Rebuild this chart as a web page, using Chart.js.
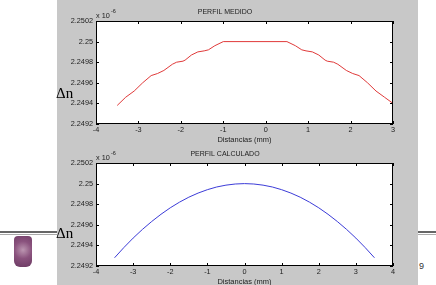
<!DOCTYPE html>
<html>
<head>
<meta charset="utf-8">
<script src="https://cdn.jsdelivr.net/npm/chart.js@4.4.1/dist/chart.umd.min.js"></script>
<style>
  body { margin: 0; width: 436px; height: 285px; background: #fff; position: relative; overflow: hidden; font-family: "Liberation Sans", Arial, sans-serif; }
  #figure { position: absolute; left: 57px; top: 0; width: 361px; height: 285px; background: #c8c8c8; }
  canvas { position: absolute; left: 57px; }
  #topChart { top: 0; }
  #bottomChart { top: 142px; }
  .dn { position: absolute; left: 56px; font-family: "Liberation Serif", "Times New Roman", serif; font-size: 15px; color: #000; line-height: 1; }
  .rule { position: absolute; top: 231px; height: 1px; border-top: 2px solid #666; border-bottom: 1px solid #aaa; }
  #logo { position: absolute; left: 14px; top: 236px; width: 18px; height: 31px; border-radius: 4px 4px 6px 6px;
          background: radial-gradient(circle at 50% 45%, #b48aa8 0%, #7d3f6f 45%, #5a2350 100%); opacity: 0.9; }
  #page { position: absolute; left: 419px; top: 261px; font-size: 9px; color: #333; }
</style>
</head>
<body>
<div id="figure"></div>
<div class="rule" style="left:0; width:57px;"></div>
<div class="rule" style="left:418px; width:18px;"></div>
<div id="logo"></div>
<div id="page">9</div>
<canvas id="topChart" width="361" height="146"></canvas>
<canvas id="bottomChart" width="361" height="143"></canvas>
<div class="dn" style="top:86px;">&Delta;n</div>
<div class="dn" style="top:226px;">&Delta;n</div>
<script>
// measured profile (x in mm, n in units of 1e-6)
const xMedido = [-3.5, -3.3, -3.1, -2.9, -2.7, -2.55, -2.4, -2.2, -2.1, -1.95, -1.9, -1.75, -1.6, -1.45, -1.35, -1.2, -1.0,
                 0.5, 0.7, 0.85, 0.95, 1.1, 1.25, 1.4, 1.45, 1.6, 1.7, 1.9, 2.05, 2.2, 2.4, 2.6, 2.8, 3.0];
const yMedido = [2.24938, 2.24946, 2.24952, 2.24960, 2.24967, 2.24969, 2.24972, 2.24978, 2.24980, 2.24981, 2.24982, 2.24987, 2.24990, 2.24991, 2.24992, 2.24996, 2.25000,
                 2.25000, 2.24996, 2.24992, 2.24991, 2.24990, 2.24987, 2.24982, 2.24981, 2.24980, 2.24978, 2.24972, 2.24969, 2.24967, 2.24960, 2.24952, 2.24946, 2.24940];

// calculated profile
const xCalculado = [-3.5, -3.25, -3.0, -2.75, -2.5, -2.25, -2.0, -1.75, -1.5, -1.25, -1.0, -0.75, -0.5, -0.25, 0,
                    0.25, 0.5, 0.75, 1.0, 1.25, 1.5, 1.75, 2.0, 2.25, 2.5, 2.75, 3.0, 3.25, 3.5];
const yCalculado = [2.249280, 2.249379, 2.249471, 2.249555, 2.249632, 2.249702, 2.249765, 2.249820, 2.249868, 2.249908, 2.249941, 2.249967, 2.249985, 2.249996, 2.250000,
                    2.249996, 2.249985, 2.249967, 2.249941, 2.249908, 2.249868, 2.249820, 2.249765, 2.249702, 2.249632, 2.249555, 2.249471, 2.249379, 2.249280];

const yTicks = [2.2492, 2.2494, 2.2496, 2.2498, 2.25, 2.2502];
const xTicksMedido = [-4, -3, -2, -1, 0, 1, 2, 3];
const xTicksCalculado = [-4, -3, -2, -1, 0, 1, 2, 3, 4];

const textColor = '#222';
const tickFont = { family: 'Liberation Sans', size: 7.3, lineHeight: 1 };

// white plot box with inner ticks, like the matlab axes
const matlabBox = {
  id: 'matlabBox',
  beforeDraw(chart) {
    const { ctx, chartArea: a } = chart;
    ctx.save();
    ctx.fillStyle = '#fff';
    ctx.fillRect(a.left, a.top, a.right - a.left, a.bottom - a.top);
    ctx.restore();
  },
  afterDraw(chart) {
    const { ctx, chartArea: a, scales } = chart;
    ctx.save();
    ctx.strokeStyle = '#000';
    ctx.lineWidth = 1;
    ctx.strokeRect(a.left + 0.5, a.top + 0.5, a.right - a.left - 1, a.bottom - a.top - 1);
    ctx.beginPath();
    scales.x.ticks.forEach((t, i) => {
      const px = Math.round(scales.x.getPixelForTick(i)) + 0.5;
      ctx.moveTo(px, a.bottom); ctx.lineTo(px, a.bottom - 3);
      ctx.moveTo(px, a.top); ctx.lineTo(px, a.top + 3);
    });
    scales.y.ticks.forEach((t, i) => {
      const py = Math.round(scales.y.getPixelForTick(i)) + 0.5;
      ctx.moveTo(a.left, py); ctx.lineTo(a.left + 3, py);
      ctx.moveTo(a.right, py); ctx.lineTo(a.right - 3, py);
    });
    ctx.stroke();
    // exponent
    ctx.fillStyle = textColor;
    ctx.font = '7.3px "Liberation Sans"';
    ctx.textBaseline = 'alphabetic';
    ctx.fillText('x 10', a.left, a.top - 3);
    ctx.font = '5.5px "Liberation Sans"';
    ctx.fillText('-6', a.left + 15, a.top - 8);
    ctx.restore();
  }
};

function makeChart(id, title, xs, ys, color, xTicks, xAxisHeight, titlePad) {
  const ctx = document.getElementById(id).getContext('2d');
  return new Chart(ctx, {
    type: 'line',
    data: {
      datasets: [{
        data: xs.map((x, i) => ({ x: x, y: ys[i] })),
        borderColor: color,
        borderWidth: 1,
        pointRadius: 0,
        tension: 0,
        fill: false
      }]
    },
    options: {
      responsive: false,
      animation: false,
      layout: { padding: { left: 0, right: 25, top: 0, bottom: 0 } },
      plugins: {
        legend: { display: false },
        tooltip: { enabled: false },
        title: {
          display: true,
          text: title,
          color: textColor,
          font: { family: 'Liberation Sans', size: 7, weight: 'normal', lineHeight: 1.25 },
          padding: { top: 8, bottom: 4.25 }
        }
      },
      scales: {
        x: {
          type: 'linear',
          min: xTicks[0],
          max: xTicks[xTicks.length - 1],
          afterBuildTicks: s => { s.ticks = xTicks.map(v => ({ value: v })); },
          afterFit: s => { s.height = xAxisHeight; },
          grid: { display: false, drawTicks: false },
          border: { display: false },
          ticks: { color: textColor, font: tickFont, padding: 2.5, maxRotation: 0 },
          title: {
            display: true,
            text: 'Distancias (mm)',
            color: textColor,
            font: { family: 'Liberation Sans', size: 7.5, lineHeight: 1 },
            padding: { top: 0, bottom: titlePad }
          }
        },
        y: {
          min: yTicks[0],
          max: yTicks[yTicks.length - 1],
          afterBuildTicks: s => { s.ticks = yTicks.map(v => ({ value: v })); },
          afterFit: s => { s.width = 39; },
          grid: { display: false, drawTicks: false },
          border: { display: false },
          ticks: {
            color: textColor,
            font: tickFont,
            padding: 3,
            callback: v => String(parseFloat(Number(v).toFixed(4)))
          }
        }
      }
    },
    plugins: [matlabBox]
  });
}

makeChart('topChart', 'PERFIL MEDIDO', xMedido, yMedido, '#e03a3a', xTicksMedido, 22, 2.75);
makeChart('bottomChart', 'PERFIL CALCULADO', xCalculado, yCalculado, '#3c3cd8', xTicksCalculado, 19, -0.25);
</script>
</body>
</html>
